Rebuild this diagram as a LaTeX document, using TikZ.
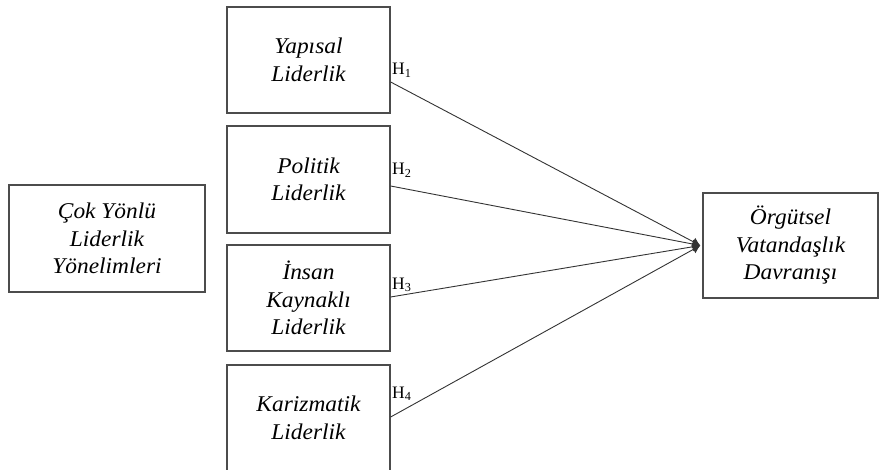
\documentclass[tikz,border=0pt]{standalone}
\usepackage{fontspec}
\setmainfont{Liberation Serif}[ItalicFeatures={FakeStretch=1.04}]
\usetikzlibrary{arrows.meta}
\begin{document}
\begin{tikzpicture}[x=1pt,y=-1pt,
  box/.style={draw=black!70, line width=1.3pt, align=center,
    font=\fontsize{22.5}{27.5}\selectfont\itshape, inner sep=0pt},
  conn/.style={draw=black!80, line width=0.9pt, -{Latex[length=8pt,width=9pt]}},
  hlab/.style={font=\fontsize{17.5}{19}\selectfont, anchor=base west, inner sep=0pt}]
\useasboundingbox (0,0) rectangle (880,470);
\clip (0,0) rectangle (880,470);
\node[box, minimum width=196pt, minimum height=107pt] (left) at (107,238.5) {Çok Yönlü\\Liderlik\\Yönelimleri};
\node[box, minimum width=163pt, minimum height=106pt] (b1) at (308.5,60) {Yapısal\\Liderlik};
\node[box, minimum width=163pt, minimum height=107pt] (b2) at (308.5,179.5) {Politik\\Liderlik};
\node[box, minimum width=163pt, minimum height=106pt] (b3) at (308.5,298) {İnsan\\Kaynaklı\\Liderlik};
\node[box, minimum width=163pt, minimum height=106pt] (b4) at (308.5,418) {Karizmatik\\Liderlik};
\node[box, minimum width=175pt, minimum height=105pt] (right) at (790.5,245.5) {Örgütsel\\Vatandaşlık\\Davranışı};
\coordinate (tip) at ([xshift=-2pt]right.west);
\coordinate (s1) at ([yshift=-22pt]b1.east);
\coordinate (s2) at ([yshift=-6.5pt]b2.east);
\coordinate (s3) at ([yshift=1pt]b3.east);
\coordinate (s4) at ([yshift=1pt]b4.east);
\draw[conn] (s1) -- (tip);
\draw[conn] (s2) -- (tip);
\draw[conn] (s3) -- (tip);
\draw[conn] (s4) -- (tip);
\node[hlab] (h1) at (392,75) {H\textsubscript{1}};
\node[hlab] (h2) at (392,175) {H\textsubscript{2}};
\node[hlab] (h3) at (392,289) {H\textsubscript{3}};
\node[hlab] (h4) at (392,398) {H\textsubscript{4}};
\end{tikzpicture}
\end{document}
